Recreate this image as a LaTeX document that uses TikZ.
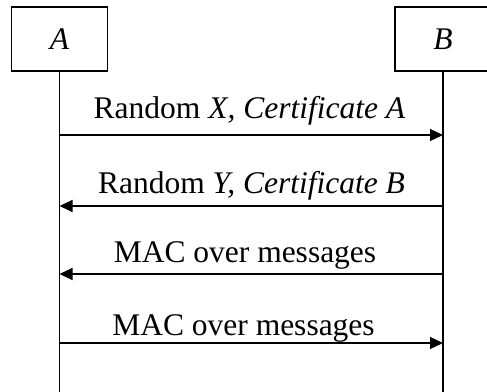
\documentclass[tikz,border=0pt]{standalone}
\usepackage{fontspec}
\setmainfont{Liberation Serif}
\usetikzlibrary{arrows.meta}
\begin{document}
\begin{tikzpicture}[x=1pt,y=-1pt,
  actor/.style={draw,line width=1.1pt,minimum width=96pt,minimum height=64pt,inner sep=0pt,font=\fontsize{31.5}{36}\selectfont\itshape},
  life/.style={line width=1.1pt},
  msg/.style={line width=1.1pt,-{Triangle[length=13pt,width=12pt]}},
  lbl/.style={anchor=base,inner sep=0pt,font=\fontsize{31.5}{36}\selectfont}]
\useasboundingbox (0,0) rectangle (487,391);
\node[actor] (A) at (59.5,39) {A};
\node[actor] (B) at (443,39) {B};
\coordinate (Aend) at (59.5,395);
\coordinate (Bend) at (443,395);
\draw[life] (A.south) -- (Aend);
\draw[life] (B.south) -- (Bend);
\coordinate (a1) at (59.5,135); \coordinate (b1) at (443,135);
\coordinate (a2) at (59.5,206); \coordinate (b2) at (443,206);
\coordinate (a3) at (59.5,274); \coordinate (b3) at (443,274);
\coordinate (a4) at (59.5,343); \coordinate (b4) at (443,343);
\draw[msg] (a1) -- (b1);
\draw[msg] (b2) -- (a2);
\draw[msg] (b3) -- (a3);
\draw[msg] (a4) -- (b4);
\node[lbl] (l1) at (249.5,118) {Random \textit{X, Certificate A}};
\node[lbl] (l2) at (251.5,193) {Random \textit{Y, Certificate B}};
\node[lbl] (l3) at (245,262) {MAC over messages};
\node[lbl] (l4) at (243.5,335) {MAC over messages};
\end{tikzpicture}
\end{document}
